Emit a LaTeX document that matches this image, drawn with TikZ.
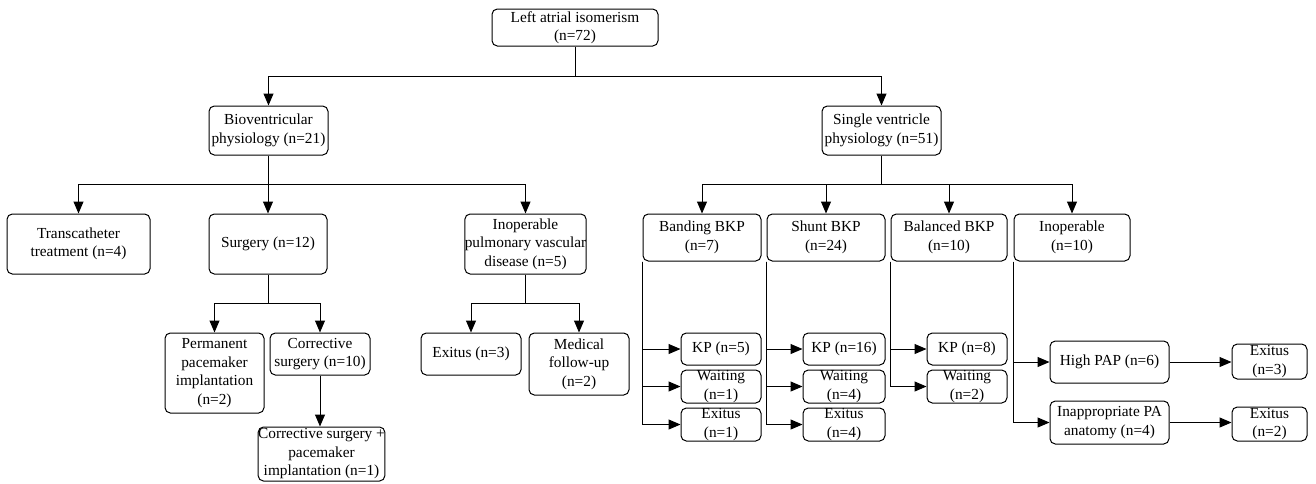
\documentclass[tikz,border=0pt]{standalone}
\usepackage{fontspec}
\setmainfont{Liberation Serif}
\usetikzlibrary{arrows.meta}
\begin{document}
\begin{tikzpicture}[x=0.75pt,y=-0.75pt,
  box/.style 2 args={draw, rounded corners=4pt, line width=0.75pt, align=center, inner sep=0pt,
    minimum width=#1*0.75pt, minimum height=#2*0.75pt,
    font=\fontsize{11.5}{13.9}\selectfont},
  arr/.style={line width=0.75pt, -{Triangle[length=9pt,width=7.5pt]}},
  ln/.style={line width=0.75pt}]
\useasboundingbox (0,0) rectangle (1316,483);
% level 0-1
\node[box={166}{37}] (top) at (575,27.5) {Left atrial isomerism\\(n=72)};
\node[box={119}{49}] (bio) at (268.5,130.5) {Bioventricular\\physiology (n=21)};
\node[box={119}{49}] (sv) at (881.5,130.5) {Single ventricle\\physiology (n=51)};
% bioventricular branch
\node[box={143}{60}] (trans) at (78.5,244) {Transcatheter\\treatment (n=4)};
\node[box={118}{60}] (surg) at (268,244) {Surgery (n=12)};
\node[box={117}{60}] (inop) at (525.5,244) {Inoperable\\pulmonary vascular\\disease (n=5)};
\node[box={99}{80}] (perm) at (214.5,373) {Permanent\\pacemaker\\implantation\\(n=2)};
\node[box={100}{42}] (corr) at (320,354) {Corrective\\surgery (n=10)};
\node[box={123}{54}] (corrp) at (321.5,454) {Corrective surgery +\\pacemaker\\implantation (n=1)};
\node[box={100}{42}] (exa) at (471,354) {Exitus (n=3)};
\node[box={100}{62}] (med) at (579,364) {Medical\\follow-up\\(n=2)};
% single ventricle branch
\node[box={118}{47}] (band) at (702,237.5) {Banding BKP\\(n=7)};
\node[box={118}{47}] (shunt) at (826,237.5) {Shunt BKP\\(n=24)};
\node[box={116}{47}] (bal) at (949,237.5) {Balanced BKP\\(n=10)};
\node[box={116}{47}] (inop2) at (1072,237.5) {Inoperable\\(n=10)};
\node[box={80}{32}] (kpa) at (721,349) {KP (n=5)};
\node[box={80}{33}] (wa) at (721,386.5) {Waiting\\(n=1)};
\node[box={80}{33}] (ea) at (721,424.5) {Exitus\\(n=1)};
\node[box={82}{32}] (kpb) at (844,349) {KP (n=16)};
\node[box={82}{33}] (wb) at (844,386.5) {Waiting\\(n=4)};
\node[box={82}{33}] (eb) at (844,424.5) {Exitus\\(n=4)};
\node[box={80}{32}] (kpc) at (967,349) {KP (n=8)};
\node[box={80}{33}] (wc) at (967,386.5) {Waiting\\(n=2)};
\node[box={119}{42}] (hp) at (1109.5,362) {High PAP (n=6)};
\node[box={119}{43}] (ipa) at (1109.5,422.5) {Inappropriate PA\\anatomy (n=4)};
\node[box={75}{35}] (exb) at (1269.5,361.5) {Exitus\\(n=3)};
\node[box={75}{34}] (exc) at (1269.5,424) {Exitus\\(n=2)};
% junctions
\coordinate (j1) at (575,76);
\coordinate (j2) at (268.5,184);
\coordinate (j3) at (881.5,184);
\coordinate (j4) at (268,303);
\coordinate (j5) at (525.5,303);
% connectors
\draw[ln] (top.south) -- (j1);
\draw[arr] (j1) -| (bio.north);
\draw[arr] (j1) -| (sv.north);
\draw[ln] (bio.south) -- (j2);
\draw[arr] (j2) -| (trans.north);
\draw[arr] (j2) -| (surg.north);
\draw[arr] (j2) -| (inop.north);
\draw[ln] (surg.south) -- (j4);
\draw[arr] (j4) -| (perm.north);
\draw[arr] (j4) -| (corr.north);
\draw[arr] (corr.south) -- (corr.south |- corrp.north);
\draw[ln] (inop.south) -- (j5);
\draw[arr] (j5) -| (exa.north);
\draw[arr] (j5) -| (med.north);
\draw[ln] (sv.south) -- (j3);
\draw[arr] (j3) -| (band.north);
\draw[arr] (j3) -| (shunt.north);
\draw[arr] (j3) -| (bal.north);
\draw[arr] (j3) -| (inop2.north);
\draw[arr] (band.south west) |- (kpa.west);
\draw[arr] (band.south west) |- (wa.west);
\draw[arr] (band.south west) |- (ea.west);
\draw[arr] (shunt.south west) |- (kpb.west);
\draw[arr] (shunt.south west) |- (wb.west);
\draw[arr] (shunt.south west) |- (eb.west);
\draw[arr] (bal.south west) |- (kpc.west);
\draw[arr] (bal.south west) |- (wc.west);
\draw[arr] (inop2.south west) |- (hp.west);
\draw[arr] (inop2.south west) |- (ipa.west);
\draw[arr] (hp.east) -- (exb.west |- hp.east);
\draw[arr] (ipa.east) -- (exc.west |- ipa.east);
\end{tikzpicture}
\end{document}
